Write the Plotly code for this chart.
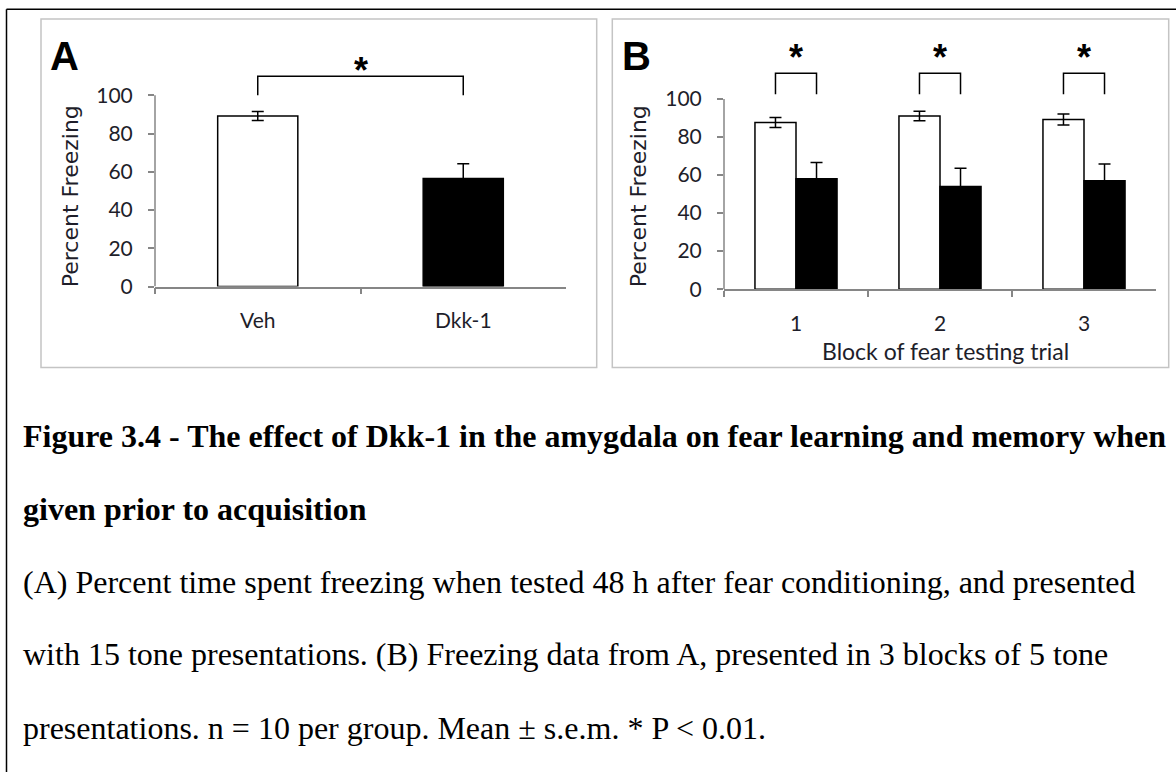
import plotly.graph_objects as go

# panel A data
groups_a = ["Veh", "Dkk-1"]
freeze_a = [89.2, 56.5]
sem_a = [2.3, 7.8]

# panel B data (3 blocks of 5 tones)
blocks = ["1", "2", "3"]
veh_b = [87.6, 91.0, 89.2]
veh_sem_b = [2.6, 2.5, 2.9]
dkk_b = [58.0, 54.0, 57.0]
dkk_sem_b = [8.6, 9.6, 8.8]

y_ticks = [0, 20, 40, 60, 80, 100]

W, H = 1176, 783
AXC = "#868686"
TXT = "#1e1e2a"


def px(x):
    return x / W


def py(y):
    return 1 - y / H


fig = go.Figure()

# panel A bars
fig.add_trace(go.Bar(
    x=groups_a, y=freeze_a, width=0.39,
    marker=dict(color=["white", "black"], line=dict(color="black", width=1.5)),
    error_y=dict(type="data", array=sem_a, color="black", thickness=1.5, width=6),
    xaxis="x", yaxis="y"))

# panel B bars
bw = 0.285
fig.add_trace(go.Bar(
    x=blocks, y=veh_b, width=bw, offset=-bw,
    marker=dict(color="white", line=dict(color="black", width=1.5)),
    error_y=dict(type="data", array=veh_sem_b, color="black", thickness=1.5, width=6),
    xaxis="x2", yaxis="y2"))
fig.add_trace(go.Bar(
    x=blocks, y=dkk_b, width=bw, offset=0,
    marker=dict(color="black", line=dict(color="black", width=1.5)),
    error_y=dict(type="data", array=dkk_sem_b, color="black", thickness=1.5, width=6),
    xaxis="x2", yaxis="y2"))

tickfont = dict(family="Lato", size=21, color=TXT)
xax = dict(type="category", showline=True, linecolor=AXC, linewidth=1.5,
           ticks="outside", tickson="boundaries", ticklen=6, tickcolor=AXC,
           tickwidth=1.5, showgrid=False, zeroline=False, tickfont=tickfont,
           ticklabelstandoff=14, fixedrange=True)
yax = dict(range=[0, 130], tickvals=y_ticks, showline=False, ticks="outside",
           ticklen=6, tickcolor=AXC, tickwidth=1.5, showgrid=False,
           zeroline=False, tickfont=tickfont, ticklabelstandoff=11, fixedrange=True)

fig.update_layout(
    width=W, height=H, margin=dict(l=0, r=0, t=0, b=0),
    paper_bgcolor="white", plot_bgcolor="rgba(0,0,0,0)",
    showlegend=False, barmode="overlay",
    xaxis=dict(xax, domain=[px(155), px(566)], range=[-0.5, 1.5], anchor="y"),
    yaxis=dict(yax, domain=[py(290.7), py(38.5)], anchor="x"),
    xaxis2=dict(xax, domain=[px(724), px(1156)], range=[-0.5, 2.5], anchor="y2",
                ticklabelstandoff=15),
    yaxis2=dict(yax, domain=[py(293.3), py(42.4)], anchor="x2"),
)

shapes = []
# outer frame (left + top edges)
shapes.append(dict(type="line", xref="paper", yref="paper", x0=px(6.5), x1=px(6.5),
                   y0=py(9.5), y1=0, line=dict(color="black", width=1.5)))
shapes.append(dict(type="line", xref="paper", yref="paper", x0=px(6.5), x1=1,
                   y0=py(9.5), y1=py(9.5), line=dict(color="black", width=1.5)))
# panel frames
for x0, x1 in [(41, 596.7), (612.3, 1168.7)]:
    shapes.append(dict(type="rect", xref="paper", yref="paper",
                       x0=px(x0), x1=px(x1), y0=py(372.7), y1=py(19.3),
                       line=dict(color="#c4c4c4", width=1.5), layer="below"))
# y-axis lines (0..100 only)
for xr, yr in [("x domain", "y"), ("x2 domain", "y2")]:
    shapes.append(dict(type="line", xref=xr, yref=yr, x0=0, x1=0, y0=0, y1=100,
                       line=dict(color=AXC, width=1.5)))

# significance brackets
br = dict(color="black", width=1.5)
shapes.append(dict(type="path", xref="x", yref="y",
                   path="M 0,100 L 0,110 L 1,110 L 1,100", line=br))
for i in range(len(blocks)):
    l, r = i - bw / 2, i + bw / 2
    shapes.append(dict(type="path", xref="x2", yref="y2",
                       path=f"M {l},102.5 L {l},113.5 L {r},113.5 L {r},102.5", line=br))
fig.update_layout(shapes=shapes)

ann = []
star = dict(family="Liberation Sans", size=36, color="black")
ann.append(dict(x=0.5, y=101.4, xref="x", yref="y", text="<b>*</b>", showarrow=False,
                font=star, xanchor="center", yanchor="bottom"))
for i in range(len(blocks)):
    ann.append(dict(x=i, y=110, xref="x2", yref="y2", text="<b>*</b>", showarrow=False,
                    font=star, xanchor="center", yanchor="bottom"))

# panel letters
letter = dict(family="Liberation Sans", size=40, color="black")
ann.append(dict(x=px(64), y=py(57), xref="paper", yref="paper", text="<b>A</b>",
                showarrow=False, font=letter, xanchor="center", yanchor="middle"))
ann.append(dict(x=px(636), y=py(57), xref="paper", yref="paper", text="<b>B</b>",
                showarrow=False, font=letter, xanchor="center", yanchor="middle"))

# axis titles
ytitle = dict(family="DejaVu Sans", size=22, color=TXT)
for xt in [70, 638]:
    ann.append(dict(x=px(xt), y=py(199), xref="paper", yref="paper",
                    text="Percent Freezing", textangle=-90, showarrow=False,
                    font=ytitle, xanchor="center", yanchor="middle"))
ann.append(dict(x=px(946), y=py(356), xref="paper", yref="paper",
                text="Block of fear testing trial", showarrow=False,
                xanchor="center", yanchor="middle",
                font=dict(family="Lato", size=23, color=TXT)))

# caption
caption = [
    ("<b>Figure 3.4 - The effect of Dkk-1 in the amygdala on fear learning and memory when</b>", 442),
    ("<b>given prior to acquisition</b>", 516),
    ("(A) Percent time spent freezing when tested 48 h after fear conditioning, and presented", 590),
    ("with 15 tone presentations. (B) Freezing data from A, presented in 3 blocks of 5 tone", 663),
    ("presentations. n = 10 per group. Mean ± s.e.m. * P < 0.01.", 738),
]
for txt, yc in caption:
    ann.append(dict(x=px(21), y=py(yc), xref="paper", yref="paper", text=txt,
                    showarrow=False, xanchor="left", yanchor="middle",
                    font=dict(family="Liberation Serif", size=32, color="black")))

fig.update_layout(annotations=ann)

fig.write_html("out.html", config=dict(displayModeBar=False),
               post_script="document.body.style.margin='0';document.body.style.overflow='hidden';")
